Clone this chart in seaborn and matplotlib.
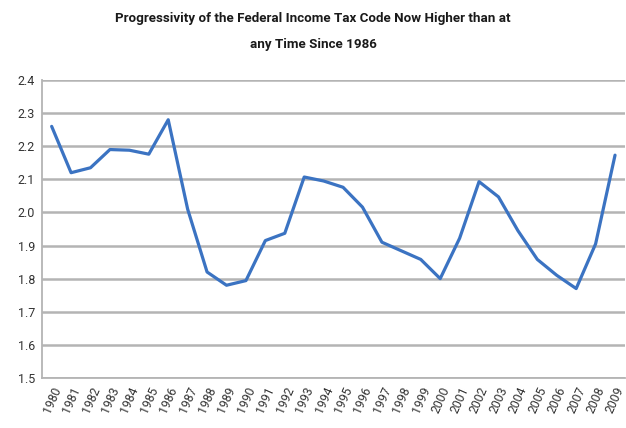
import matplotlib
matplotlib.use("Agg")
import matplotlib.pyplot as plt
import numpy as np
import pandas as pd
import seaborn as sns

years = list(range(1980, 2010))
progressivity = [2.26, 2.12, 2.135, 2.19, 2.188, 2.176, 2.28, 2.01, 1.82, 1.78,
                 1.794, 1.915, 1.937, 2.107, 2.095, 2.076, 2.016, 1.91, 1.884, 1.858,
                 1.80, 1.922, 2.093, 2.047, 1.945, 1.858, 1.81, 1.77, 1.905, 2.173]
y_ticks = [1.5, 1.6, 1.7, 1.8, 1.9, 2.0, 2.1, 2.2, 2.3, 2.4]
title = "Progressivity of the Federal Income Tax Code Now Higher than at\nany Time Since 1986"

df = pd.DataFrame({"year": years, "value": progressivity})

sns.set_style("white")
plt.rcParams["font.family"] = ["Roboto", "DejaVu Sans"]

fig = plt.figure(figsize=(6.26, 4.28), dpi=100)
ax = fig.add_axes([0.067, 0.117, 0.931, 0.696])

sns.lineplot(data=df, x="year", y="value", ax=ax, color="#3b73c2", linewidth=2.3)

ax.set_ylim(1.5, 2.4)
ax.set_xlim(1979.5, 2009.5)
ax.set_yticks(y_ticks)
ax.set_yticklabels([f"{v:.1f}" for v in y_ticks], fontsize=9, color="#333333")
ax.set_xticks(years)
ax.set_xticklabels([str(y) for y in years], rotation=66, fontsize=8.8, color="#333333",
                   ha="right", rotation_mode="anchor")
ax.set_xticks(np.arange(1979.5, 2010.0, 1.0), minor=True)
ax.tick_params(axis="x", which="major", length=0, pad=5)
ax.tick_params(axis="x", which="minor", length=4, color="#a0a0a0", width=1, direction="out")
ax.tick_params(axis="y", length=0, pad=5)

ax.grid(axis="y", color="#b4b4b4", linewidth=1.8)
ax.set_axisbelow(True)
for side in ("top", "right"):
    ax.spines[side].set_visible(False)
for side in ("left", "bottom"):
    ax.spines[side].set_color("#b4b4b4")
    ax.spines[side].set_linewidth(1.3)

ax.set_xlabel("")
ax.set_ylabel("")
fig.text(0.5, 0.972, title, ha="center", va="top", fontsize=9.6, fontweight="bold",
         color="#1a1a1a", linespacing=2.3)

fig.savefig("out.png", dpi=100)
